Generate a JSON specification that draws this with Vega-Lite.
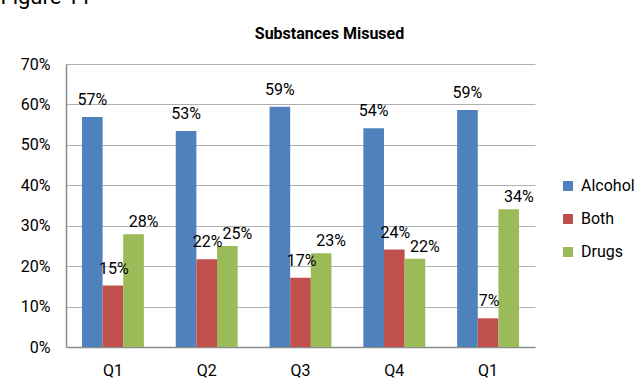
{
  "$schema": "https://vega.github.io/schema/vega-lite/v6.json",
  "width": 469,
  "height": 283,
  "autosize": "none",
  "padding": {"left": 66, "top": 64, "right": 109, "bottom": 43},
  "background": "white",
  "config": {
    "font": "Roboto",
    "view": {"stroke": null},
    "text": {"font": "Roboto", "fontSize": 16, "color": "#000000", "baseline": "alphabetic"}
  },
  "data": {
    "values": [
      {"period": "Y1 Q1", "substance": "Alcohol", "share": 0.569},
      {"period": "Y1 Q1", "substance": "Both", "share": 0.152},
      {"period": "Y1 Q1", "substance": "Drugs", "share": 0.279},
      {"period": "Y1 Q2", "substance": "Alcohol", "share": 0.534},
      {"period": "Y1 Q2", "substance": "Both", "share": 0.217},
      {"period": "Y1 Q2", "substance": "Drugs", "share": 0.25},
      {"period": "Y1 Q3", "substance": "Alcohol", "share": 0.594},
      {"period": "Y1 Q3", "substance": "Both", "share": 0.171},
      {"period": "Y1 Q3", "substance": "Drugs", "share": 0.232},
      {"period": "Y1 Q4", "substance": "Alcohol", "share": 0.541},
      {"period": "Y1 Q4", "substance": "Both", "share": 0.241},
      {"period": "Y1 Q4", "substance": "Drugs", "share": 0.218},
      {"period": "Y2 Q1", "substance": "Alcohol", "share": 0.586},
      {"period": "Y2 Q1", "substance": "Both", "share": 0.071},
      {"period": "Y2 Q1", "substance": "Drugs", "share": 0.341}
    ]
  },
  "encoding": {
    "x": {
      "field": "period",
      "type": "nominal",
      "sort": null,
      "scale": {"paddingInner": 0.34, "paddingOuter": 0.17},
      "axis": {
        "title": "Figure 11",
        "titleFont": "Roboto",
        "titleFontSize": 22,
        "titleFontWeight": "normal",
        "titleColor": "#000000",
        "titleX": -66,
        "titleY": -344,
        "titleAlign": "left",
        "titleAnchor": "start",
        "titleBaseline": "alphabetic",
        "labelExpr": "split(datum.label, ' ')[1]",
        "labelAngle": 0,
        "labelFontSize": 16,
        "labelColor": "#000000",
        "labelPadding": 15,
        "ticks": false,
        "domainColor": "#8c8c8c",
        "domainWidth": 1.5,
        "grid": false
      }
    },
    "xOffset": {"field": "substance", "type": "nominal", "scale": {"paddingInner": 0, "paddingOuter": 0}},
    "y": {
      "field": "share",
      "type": "quantitative",
      "scale": {"domain": [0, 0.7], "nice": false},
      "axis": {
        "title": "Substances Misused",
        "titleAngle": 0,
        "titleX": 263,
        "titleY": -26,
        "titleAlign": "center",
        "titleBaseline": "alphabetic",
        "titleFont": "Roboto",
        "titleFontSize": 16,
        "titleFontWeight": "bold",
        "titleColor": "#000000",
        "values": [0, 0.1, 0.2, 0.3, 0.4, 0.5, 0.6, 0.7],
        "format": ".0%",
        "labelFontSize": 16,
        "labelColor": "#000000",
        "labelPadding": 16,
        "ticks": false,
        "domainColor": "#8c8c8c",
        "domainWidth": 1.5,
        "gridColor": "#b0b0b0",
        "gridWidth": 1
      }
    }
  },
  "layer": [
    {
      "mark": {"type": "bar"},
      "encoding": {
        "color": {
          "field": "substance",
          "type": "nominal",
          "scale": {"domain": ["Alcohol", "Both", "Drugs"], "range": ["#4F81BD", "#C0504D", "#9BBB59"]},
          "legend": {
            "title": null,
            "orient": "none",
            "legendX": 494,
            "legendY": 114,
            "padding": 0,
            "symbolType": "square",
            "symbolSize": 100,
            "symbolStrokeWidth": 0,
            "labelFontSize": 16,
            "labelFont": "Roboto",
            "labelColor": "#000000",
            "labelOffset": 5,
            "rowPadding": 17
          }
        }
      }
    },
    {
      "transform": [{"filter": "datum.substance === 'Alcohol'"}],
      "mark": {"type": "text", "dy": -12},
      "encoding": {"text": {"field": "share", "type": "quantitative", "format": ".0%"}}
    },
    {
      "transform": [{"filter": "datum.substance === 'Both'"}],
      "mark": {"type": "text", "dy": -12, "dx": 1},
      "encoding": {"text": {"field": "share", "type": "quantitative", "format": ".0%"}}
    },
    {
      "transform": [{"filter": "datum.substance === 'Drugs'"}],
      "mark": {"type": "text", "dy": -7, "dx": 10},
      "encoding": {"text": {"field": "share", "type": "quantitative", "format": ".0%"}}
    }
  ]
}
